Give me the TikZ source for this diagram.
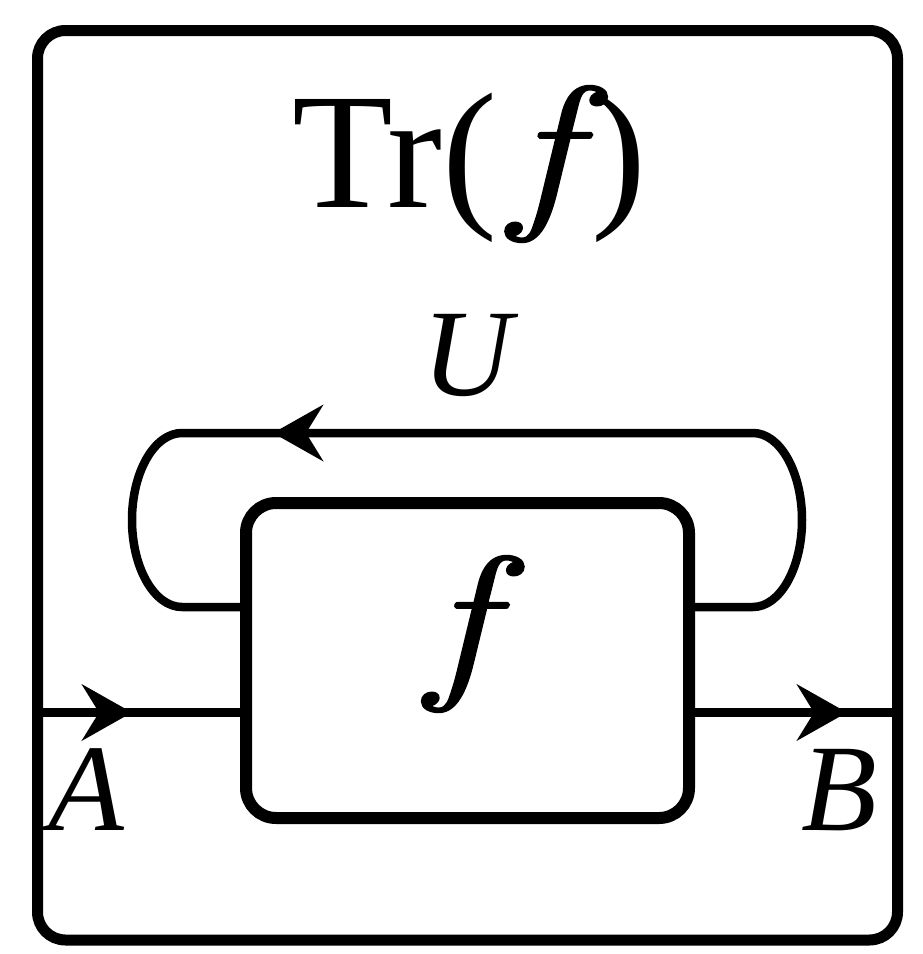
\documentclass[tikz,border=0pt]{standalone}
\usepackage{fontspec}
\setmainfont{Liberation Serif}
\newfontfamily\lmfont[ItalicFeatures={FakeBold=1.3, FakeStretch=1.25}]{Latin Modern Roman}
\usetikzlibrary{arrows.meta}
\newcommand{\ff}{{\fontsize{172}{200}\selectfont\lmfont\itshape f}}
\tikzset{
  frame/.style={draw, line width=11pt, rounded corners=28pt},
  fboxstyle/.style={draw, line width=12pt, rounded corners=30pt, inner sep=0pt},
  wire/.style={draw, line width=8.5pt},
  arr/.style={wire, -{Stealth[length=50pt, width=56pt, inset=17pt]}},
  bigtxt/.style={inner sep=0pt, anchor=base, font=\fontsize{165}{190}\selectfont},
  smalltxt/.style={inner sep=0pt, anchor=base, font=\fontsize{124}{140}\selectfont\itshape},
}
\begin{document}
\begin{tikzpicture}[x=1pt,y=-1pt]
\useasboundingbox (0,0) rectangle (922,954);
% outer frame
\node[frame, minimum width=860pt, minimum height=909.5pt] (outer) at (467.5,485.25) {};
% f box
\node[fboxstyle, minimum width=443pt, minimum height=315pt] (fbox) at (467.5,660.5) {};
% labels
\node[bigtxt, anchor=base west] (title) at (292,207) {Tr(\kern14pt\ff\kern16pt)};
\node[bigtxt] (flab) at (460,677) {\ff};
\node[smalltxt] (U) at (467,395) {U};
\node[smalltxt] (A) at (86,830) {A};
\node[smalltxt] (B) at (839,830) {B};
% coordinates
\coordinate (inL) at (37.5,712.5);
\coordinate (inTip) at (132,712.5);
\coordinate (inR) at (246,712.5);
\coordinate (outL) at (689,712.5);
\coordinate (outTip) at (847,712.5);
\coordinate (outR) at (897.5,712.5);
\coordinate (lp1) at (246,607);
\coordinate (lp2) at (182,607);
\coordinate (lp3) at (132,520);
\coordinate (lp4) at (182,433);
\coordinate (topTip) at (273,433);
\coordinate (lp5) at (753,433);
\coordinate (lp6) at (802,520);
\coordinate (lp7) at (753,607);
\coordinate (lp8) at (689,607);
% wires
\draw[wire] (inL) -- (inR);
\draw[arr] (inL) -- (inTip);
\draw[wire] (outL) -- (outR);
\draw[arr] (outL) -- (outTip);
% loop
\draw[wire, line join=round] (lp1) -- (lp2)
  .. controls (154.4,607) and (132,568) .. (lp3)
  .. controls (132,472) and (154.4,433) .. (lp4) -- (lp5)
  .. controls (780,433) and (802,472) .. (lp6)
  .. controls (802,568) and (780,607) .. (lp7) -- (lp8);
\draw[arr] (lp5) -- (topTip);
\end{tikzpicture}
\end{document}
